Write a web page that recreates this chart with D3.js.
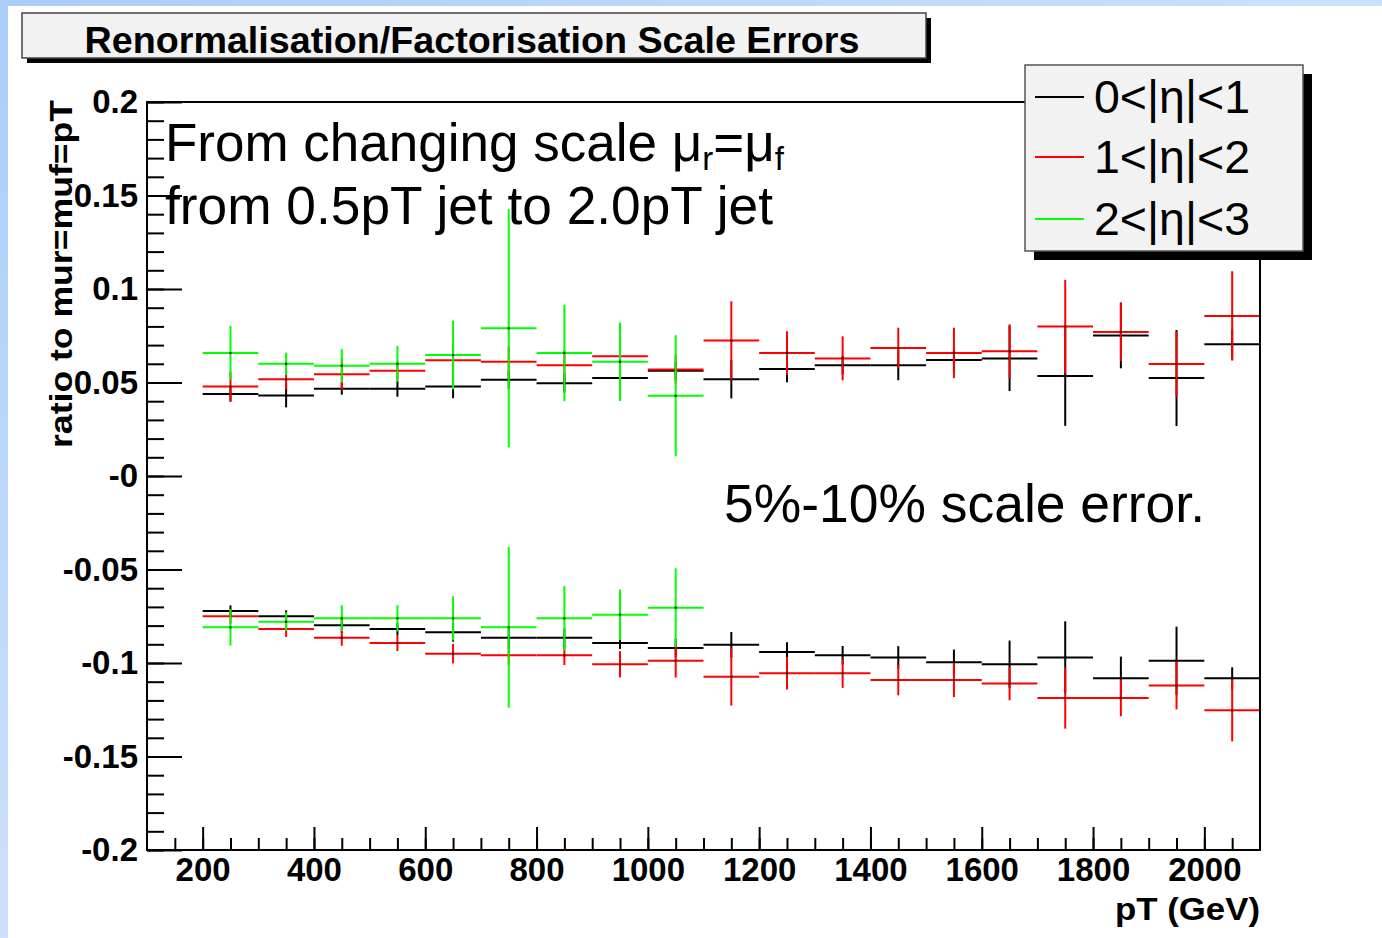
<!DOCTYPE html>
<html>
<head>
<meta charset="utf-8">
<script src="https://cdn.jsdelivr.net/npm/d3@7"></script>
<style>
    body { margin: 0; background: #fff; }
    svg { display: block; font-family: "Liberation Sans", Arial, sans-serif; }
</style>
</head>
<body>
<div id="chart"></div>
<script>

// pT bin centres (bins are 100 GeV wide)
let binCenters = [250, 350, 450, 550, 650, 750, 850, 950, 1050, 1150, 1250, 1350, 1450, 1550, 1650, 1750, 1850, 1950, 2050];

// upper band (scale 0.5 pT)
let etaLowUp = [0.0438, 0.0431, 0.0467, 0.0467, 0.0478, 0.0515, 0.0496, 0.0524, 0.0563, 0.0517, 0.0572, 0.0592, 0.0592, 0.0620, 0.0629, 0.0535, 0.0752, 0.0524, 0.0704];
let etaLowUpErr = [0.004, 0.0064, 0.0032, 0.0043, 0.0062, 0.005, 0.005, 0.005, 0.005, 0.0102, 0.0071, 0.005, 0.008, 0.006, 0.0175, 0.0267, 0.0176, 0.0257, 0.008];
let etaMidUp = [0.0478, 0.0517, 0.0544, 0.0563, 0.0619, 0.0611, 0.0592, 0.0640, 0.0570, 0.0724, 0.0658, 0.0629, 0.0684, 0.0658, 0.0667, 0.0799, 0.0770, 0.0599, 0.0856];
let etaMidUpErr = [0.008, 0.0053, 0.0084, 0.005, 0.008, 0.008, 0.008, 0.008, 0.008, 0.021, 0.0116, 0.0118, 0.0109, 0.0135, 0.0144, 0.025, 0.0155, 0.0175, 0.0239];
let etaHighUp = [0.0658, 0.0600, 0.0590, 0.0600, 0.0647, 0.0790, 0.0658, 0.0611, 0.0429];
let etaHighUpErr = [0.0144, 0.006, 0.0089, 0.0096, 0.0184, 0.0637, 0.0258, 0.021, 0.0324];

// lower band (scale 2.0 pT)
let etaLowDn = [-0.0722, -0.0750, -0.0798, -0.0818, -0.0836, -0.0865, -0.0865, -0.0893, -0.0920, -0.0902, -0.0941, -0.0959, -0.0970, -0.0996, -0.1007, -0.0970, -0.1082, -0.0988, -0.1082];
let etaLowDnErr = [0.003, 0.0032, 0.004, 0.0032, 0.005, 0.005, 0.005, 0.0032, 0.005, 0.0068, 0.0052, 0.005, 0.006, 0.0068, 0.0127, 0.0193, 0.0116, 0.0182, 0.0059];
let etaMidDn = [-0.0750, -0.0818, -0.0865, -0.0893, -0.0950, -0.0959, -0.0959, -0.1007, -0.0988, -0.1073, -0.1055, -0.1055, -0.1091, -0.1091, -0.1110, -0.1187, -0.1187, -0.1120, -0.1253];
let etaMidDnErr = [0.004, 0.0043, 0.0043, 0.0043, 0.0052, 0.005, 0.0052, 0.007, 0.009, 0.0155, 0.0087, 0.0078, 0.0082, 0.0091, 0.0089, 0.0164, 0.0098, 0.0128, 0.0166];
let etaHighDn = [-0.0809, -0.0779, -0.0761, -0.0761, -0.0761, -0.0809, -0.0761, -0.0742, -0.0704];
let etaHighDnErr = [0.0098, 0.005, 0.007, 0.007, 0.0118, 0.043, 0.0173, 0.0135, 0.021];

let legendLabels = ["0<|η|<1", "1<|η|<2", "2<|η|<3"];
let seriesColors = ["#000000", "#ff0000", "#00ff00"];

let xTickValues = [200, 400, 600, 800, 1000, 1200, 1400, 1600, 1800, 2000];
let yTickValues = [0.2, 0.15, 0.1, 0.05, 0, -0.05, -0.1, -0.15, -0.2];
let yTickLabels = ["0.2", "0.15", "0.1", "0.05", "-0", "-0.05", "-0.1", "-0.15", "-0.2"];

let binWidth = 100;

let W = 1382, H = 938;
let frame = {left: 147, right: 1260, top: 102, bottom: 850};

let svg = d3.select("#chart").append("svg")
    .attr("width", W)
    .attr("height", H);

// slide background
let defs = svg.append("defs");
let grad = defs.append("linearGradient")
    .attr("id", "bg")
    .attr("x1", "0").attr("y1", "0").attr("x2", "1").attr("y2", "1");
grad.append("stop").attr("offset", "0%").attr("stop-color", "#aacdf8");
grad.append("stop").attr("offset", "100%").attr("stop-color", "#eef4fe");
svg.append("rect").attr("width", W).attr("height", H).attr("fill", "url(#bg)");
svg.append("rect").attr("x", 8).attr("y", 6).attr("width", W - 8).attr("height", H - 6).attr("fill", "#fff");

// Scales and axes
let x = d3.scaleLinear().domain([100, 2100]).range([frame.left, frame.right]);
let y = d3.scaleLinear().domain([-0.2, 0.2]).range([frame.bottom, frame.top]);

let yMinor = d3.range(-20, 21).map(d => d / 100);
let xMinor = d3.range(150, 2100, 50);

svg.append("g")
    .attr("transform", `translate(${frame.left},0)`)
    .call(d3.axisLeft(y).tickValues(yMinor).tickSize(-17).tickFormat(""))
    .call(g => g.select(".domain").remove())
    .selectAll("line").attr("stroke-width", 2);

let yAxis = svg.append("g")
    .attr("class", "y-axis axis")
    .attr("transform", `translate(${frame.left},0)`)
    .call(d3.axisLeft(y).tickValues(yTickValues).tickSize(-35).tickPadding(9)
        .tickFormat((d, i) => yTickLabels[i]));
yAxis.select(".domain").remove();
yAxis.selectAll("line").attr("stroke-width", 2);
yAxis.selectAll("text")
    .attr("font-size", 33)
    .attr("font-weight", "bold")
    .attr("font-family", "Liberation Sans, Arial, sans-serif")
    .attr("fill", "#000");

svg.append("g")
    .attr("transform", `translate(0,${frame.bottom})`)
    .call(d3.axisBottom(x).tickValues(xMinor).tickSize(-12).tickFormat(""))
    .call(g => g.select(".domain").remove())
    .selectAll("line").attr("stroke-width", 2);

let xAxis = svg.append("g")
    .attr("class", "x-axis axis")
    .attr("transform", `translate(0,${frame.bottom})`)
    .call(d3.axisBottom(x).tickValues(xTickValues).tickSize(-23).tickPadding(8)
        .tickFormat(d3.format("d")));
xAxis.select(".domain").remove();
xAxis.selectAll("line").attr("stroke-width", 2);
xAxis.selectAll("text")
    .attr("font-size", 33)
    .attr("font-weight", "bold")
    .attr("font-family", "Liberation Sans, Arial, sans-serif")
    .attr("fill", "#000");

// Visualization: error crosses
let series = [
    {color: seriesColors[0], vals: etaLowUp, errs: etaLowUpErr},
    {color: seriesColors[0], vals: etaLowDn, errs: etaLowDnErr},
    {color: seriesColors[1], vals: etaMidUp, errs: etaMidUpErr},
    {color: seriesColors[1], vals: etaMidDn, errs: etaMidDnErr},
    {color: seriesColors[2], vals: etaHighUp, errs: etaHighUpErr},
    {color: seriesColors[2], vals: etaHighDn, errs: etaHighDnErr}
];

let plot = svg.append("g");
series.forEach(function(s) {
    let pts = s.vals.map((v, i) => ({c: binCenters[i], v: v, e: s.errs[i]}));
    let g = plot.append("g");
    g.selectAll(".hbar").data(pts).enter().append("line")
        .attr("x1", d => x(d.c - binWidth / 2))
        .attr("x2", d => x(d.c + binWidth / 2))
        .attr("y1", d => y(d.v))
        .attr("y2", d => y(d.v))
        .attr("stroke", s.color)
        .attr("stroke-width", 2);
    g.selectAll(".vbar").data(pts).enter().append("line")
        .attr("x1", d => x(d.c))
        .attr("x2", d => x(d.c))
        .attr("y1", d => y(d.v + d.e))
        .attr("y2", d => y(d.v - d.e))
        .attr("stroke", s.color)
        .attr("stroke-width", 2);
    g.selectAll(".dot").data(pts).enter().append("rect")
        .attr("x", d => x(d.c) - 1)
        .attr("y", d => y(d.v) - 1)
        .attr("width", 2)
        .attr("height", 2)
        .attr("fill", "#000");
});

// frame
svg.append("rect")
    .attr("x", frame.left).attr("y", frame.top)
    .attr("width", frame.right - frame.left)
    .attr("height", frame.bottom - frame.top)
    .attr("fill", "none")
    .attr("stroke", "#000")
    .attr("stroke-width", 2);

// Labels
svg.append("text")
    .text("pT (GeV)")
    .attr("x", frame.right)
    .attr("y", 920)
    .attr("text-anchor", "end")
    .attr("font-size", 32)
    .attr("font-weight", "bold")
    .attr("textLength", 145)
    .attr("lengthAdjust", "spacingAndGlyphs");

svg.append("text")
    .text("ratio to mur=muf=pT")
    .attr("transform", "translate(72,448) rotate(-90)")
    .attr("font-size", 31)
    .attr("font-weight", "bold")
    .attr("textLength", 348)
    .attr("lengthAdjust", "spacingAndGlyphs");

// title box
svg.append("rect").attr("x", 27).attr("y", 18).attr("width", 904).attr("height", 45).attr("fill", "#000");
svg.append("rect").attr("x", 22).attr("y", 13).attr("width", 904).attr("height", 45)
    .attr("fill", "#f2f2f2").attr("stroke", "#444").attr("stroke-width", 1.5);
svg.append("text")
    .text("Renormalisation/Factorisation Scale Errors")
    .attr("x", 472)
    .attr("y", 53)
    .attr("text-anchor", "middle")
    .attr("font-size", 37)
    .attr("font-weight", "bold")
    .attr("textLength", 775)
    .attr("lengthAdjust", "spacingAndGlyphs");

// legend
let leg = {x: 1025, y: 65, w: 278, h: 186};
svg.append("rect").attr("x", leg.x + 9).attr("y", leg.y + 9).attr("width", leg.w).attr("height", leg.h).attr("fill", "#000");
svg.append("rect").attr("x", leg.x).attr("y", leg.y).attr("width", leg.w).attr("height", leg.h)
    .attr("fill", "#f2f2f2").attr("stroke", "#555").attr("stroke-width", 1.5);
let rowY = [97, 157, 219];
legendLabels.forEach(function(lab, i) {
    svg.append("line")
        .attr("x1", 1035).attr("x2", 1084)
        .attr("y1", rowY[i]).attr("y2", rowY[i])
        .attr("stroke", seriesColors[i])
        .attr("stroke-width", 2);
    svg.append("text")
        .text(lab)
        .attr("x", 1094)
        .attr("y", rowY[i] + 16)
        .attr("font-size", 46)
        .attr("textLength", 156)
        .attr("lengthAdjust", "spacingAndGlyphs");
});

// annotations
let ann1 = svg.append("text")
    .attr("x", 165)
    .attr("y", 161)
    .attr("font-size", 53);
ann1.append("tspan").text("From changing scale μ");
ann1.append("tspan").text("r").attr("font-size", 33).attr("dy", 9);
ann1.append("tspan").text("=μ").attr("dy", -9);
ann1.append("tspan").text("f").attr("font-size", 33).attr("dy", 9);

svg.append("text")
    .text("from 0.5pT jet to 2.0pT jet")
    .attr("x", 165)
    .attr("y", 224)
    .attr("font-size", 53)
    .attr("textLength", 608)
    .attr("lengthAdjust", "spacingAndGlyphs");

svg.append("text")
    .text("5%-10% scale error.")
    .attr("x", 724)
    .attr("y", 522)
    .attr("font-size", 53)
    .attr("textLength", 481)
    .attr("lengthAdjust", "spacingAndGlyphs");

</script>
</body>
</html>
